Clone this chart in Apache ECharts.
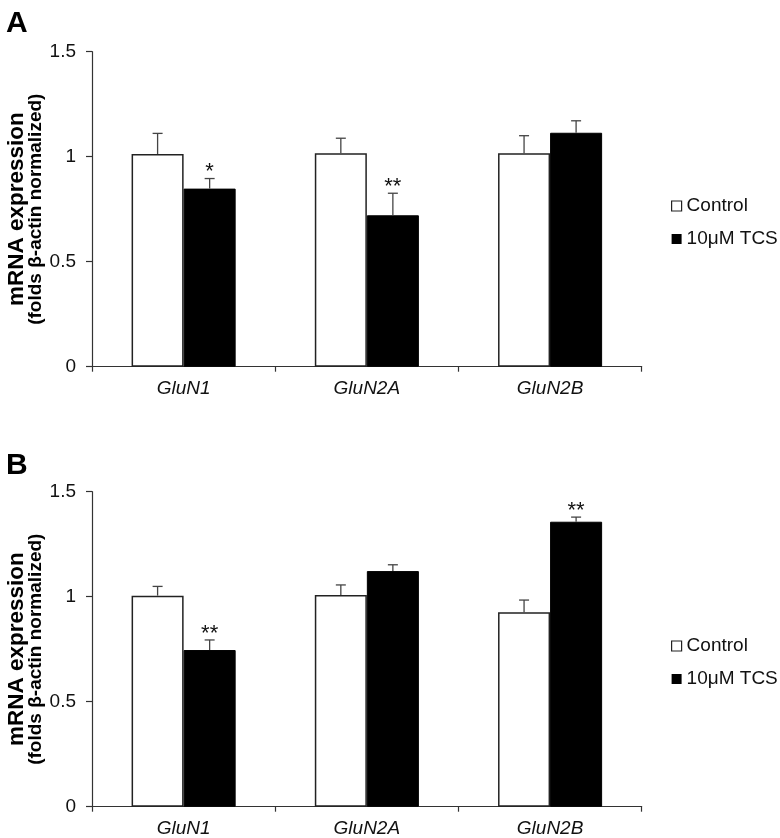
<!DOCTYPE html>
<html>
<head>
<meta charset="utf-8">
<script src="https://cdn.jsdelivr.net/npm/echarts@6/dist/echarts.min.js"></script>
<style>
html,body{margin:0;padding:0;background:#fff;}
#chart{width:780px;height:838px;}
</style>
</head>
<body>
<div id="chart"></div>
<script>
// ---- data ----
const categories = ['GluN1', 'GluN2A', 'GluN2B'];
const seriesNames = ['Control', '10μM TCS'];
const panelLabels = ['A', 'B'];
const yAxisLine1 = 'mRNA expression';
const yAxisLine2 = '(folds β-actin normalized)';
const yMin = 0, yMax = 1.5, yInterval = 0.5;

const controlA    = [1.013, 1.016, 1.016];
const controlErrA = [0.098, 0.072, 0.084];
const tcsA        = [0.848, 0.721, 1.114];
const tcsErrA     = [0.048, 0.105, 0.057];
const sigA        = ['*', '**', ''];

const controlB    = [1.005, 1.008, 0.926];
const controlErrB = [0.044, 0.048, 0.058];
const tcsB        = [0.746, 1.122, 1.357];
const tcsErrB     = [0.048, 0.030, 0.022];
const sigB        = ['**', '', '**'];

// ---- styling ----
const FONT = '"Liberation Sans", Arial, sans-serif';
const AXIS_COLOR = '#333';
const BAR_FRAC = 0.284;

function makeErrSeries(means, errs, sigs, side, gi) {
  return {
    type: 'custom',
    xAxisIndex: gi,
    yAxisIndex: gi,
    z: 5,
    silent: true,
    data: categories.map((c, i) => [i, means[i], errs[i]]),
    encode: { x: 0, y: 1 },
    renderItem: function (params, api) {
      const idx = api.value(0);
      const mean = api.value(1);
      const err = api.value(2);
      const catW = api.size([1, 0])[0];
      const x = api.coord([idx, 0])[0] + side * catW * BAR_FRAC / 2;
      const y0 = api.coord([idx, mean])[1];
      const y1 = api.coord([idx, mean + err])[1];
      const lineStyle = { stroke: '#444', lineWidth: 1.3 };
      const children = [
        { type: 'line', shape: { x1: x, y1: y0, x2: x, y2: y1 }, style: lineStyle },
        { type: 'line', shape: { x1: x - 5, y1: y1, x2: x + 5, y2: y1 }, style: lineStyle }
      ];
      const s = sigs[params.dataIndex];
      if (s) {
        children.push({
          type: 'text',
          style: {
            text: s, x: x, y: y1 + 4.5,
            align: 'center', verticalAlign: 'bottom',
            fontSize: 22, fontFamily: FONT, fill: '#111', lineHeight: 22
          }
        });
      }
      return { type: 'group', children: children };
    }
  };
}

const panels = [
  { top: 51.7, control: controlA, cErr: controlErrA, tcs: tcsA, tErr: tcsErrA, sig: sigA, legendTop: 196, labelTop: 9 },
  { top: 491.7, control: controlB, cErr: controlErrB, tcs: tcsB, tErr: tcsErrB, sig: sigB, legendTop: 636, labelTop: 451 }
];

const option = {
  backgroundColor: '#fff',
  animation: false,
  textStyle: { fontFamily: FONT },
  title: panels.map((p, i) => ({
    text: panelLabels[i], left: 6, top: p.labelTop, padding: 0,
    textStyle: { fontSize: 30, fontWeight: 'bold', color: '#000', fontFamily: FONT }
  })),
  legend: panels.map((p, i) => ({
    orient: 'vertical', left: 671, top: p.legendTop, padding: 0,
    icon: 'rect', itemWidth: 10, itemHeight: 10, itemGap: 13, itemTextGap: 4,
    selectedMode: false,
    textStyle: { fontSize: 19, lineHeight: 20, color: '#111', fontFamily: FONT },
    data: [
      { name: seriesNames[0], itemStyle: { color: '#fff', borderColor: '#222', borderWidth: 1.2 } },
      { name: seriesNames[1], itemStyle: { color: '#000', borderWidth: 0 } }
    ]
  })),
  grid: panels.map(p => ({ left: 92, top: p.top, width: 549.7, height: 315, containLabel: false, outerBoundsMode: 'none' })),
  xAxis: panels.map((p, i) => ({
    type: 'category', gridIndex: i, data: categories,
    axisLine: { lineStyle: { color: AXIS_COLOR, width: 1.2 } },
    axisTick: { show: true, length: 5, lineStyle: { color: AXIS_COLOR, width: 1.2 } },
    axisLabel: { fontSize: 19, fontStyle: 'italic', color: '#111', margin: 13, fontFamily: FONT },
    splitLine: { show: false }
  })),
  yAxis: panels.map((p, i) => ({
    type: 'value', gridIndex: i, min: yMin, max: yMax, interval: yInterval,
    name: '{a|' + yAxisLine1 + '}\n{b|' + yAxisLine2 + '}',
    nameLocation: 'middle', nameRotate: 90, nameGap: 48, nameMoveOverlap: false,
    nameTextStyle: {
      color: '#000', fontFamily: FONT, fontWeight: 'bold',
      rich: {
        a: { fontSize: 22.5, fontWeight: 'bold', lineHeight: 20, fontFamily: FONT, color: '#000' },
        b: { fontSize: 19, fontWeight: 'bold', lineHeight: 17, fontFamily: FONT, color: '#000' }
      }
    },
    axisLine: { show: true, lineStyle: { color: AXIS_COLOR, width: 1.2 } },
    axisTick: { show: true, length: 6, lineStyle: { color: AXIS_COLOR, width: 1.2 } },
    axisLabel: { fontSize: 19, color: '#111', margin: 16, fontFamily: FONT },
    splitLine: { show: false }
  })),
  series: []
};

panels.forEach((p, i) => {
  option.series.push({
    name: seriesNames[0], type: 'bar', xAxisIndex: i, yAxisIndex: i,
    data: p.control, barWidth: (BAR_FRAC * 100) + '%', barGap: '0%',
    itemStyle: { color: '#fff', borderColor: '#222', borderWidth: 1.5 }
  });
  option.series.push({
    name: seriesNames[1], type: 'bar', xAxisIndex: i, yAxisIndex: i,
    data: p.tcs, barWidth: (BAR_FRAC * 100) + '%', barGap: '0%',
    itemStyle: { color: '#000', borderColor: '#000', borderWidth: 1 }
  });
  option.series.push(makeErrSeries(p.control, p.cErr, ['', '', ''], -1, i));
  option.series.push(makeErrSeries(p.tcs, p.tErr, p.sig, 1, i));
});

const chart = echarts.init(document.getElementById('chart'), null, { renderer: 'canvas' });
chart.setOption(option);
</script>
</body>
</html>
